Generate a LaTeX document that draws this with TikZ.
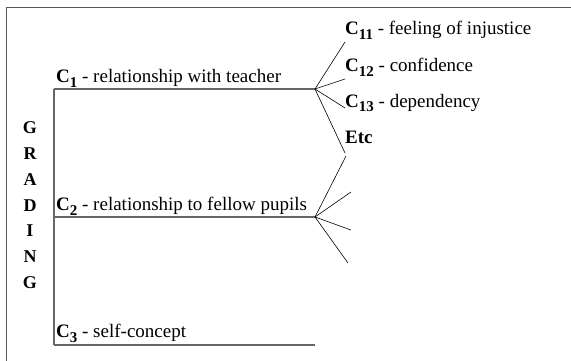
\documentclass[tikz,border=0pt]{standalone}
\usepackage{fontspec}
\setmainfont{Liberation Serif}
\usetikzlibrary{positioning}

% bold C with a bold lowered index
\newcommand{\cat}[1]{\textbf{C\raisebox{-5pt}{\fontsize{15}{16}\selectfont #1}}}

\begin{document}
\begin{tikzpicture}[x=1pt,y=-1pt,
    lbl/.style={anchor=base west,inner sep=0pt,font=\fontsize{19}{21}\selectfont},
    letter/.style={inner sep=0pt,font=\fontsize{18}{20}\selectfont\bfseries},
    stem/.style={draw=black!60,line width=1.3pt},
    twig/.style={draw=black,line width=0.6pt}]
    \useasboundingbox (0,0) rectangle (571,361);
    \draw[draw=black!65,line width=1pt] (6,361) -- (6,8) -- (571,8);

    % main branches
    \coordinate (K1) at (54,89);
    \coordinate (K2) at (54,217);
    \coordinate (K3) at (54,345);
    \coordinate (H1) at (315,89);
    \coordinate (H2) at (315,217);
    \coordinate (H3) at (315,345);

    \node[lbl] (C1) at (56,83) {\cat{1} - relationship with teacher};
    \node[lbl] (C2) at (56,210) {\cat{2} - relationship to fellow pupils};
    \node[lbl] (C3) at (56,337) {\cat{3} - self-concept};

    % sub-categories of C1
    \node[lbl] (C11) at (345,35) {\cat{11} - feeling of injustice};
    \node[lbl] (C12) at (345,72) {\cat{12} - confidence};
    \node[lbl] (C13) at (345,107) {\cat{13} - dependency};
    \node[lbl] (Etc) at (345,143) {\textbf{Etc}};

    % open ends for C2
    \coordinate (E1) at (346,156);
    \coordinate (E2) at (351,192);
    \coordinate (E3) at (351,230);
    \coordinate (E4) at (348,263);

    % the word down the side
    \foreach \ch [count=\i] in {G,R,A,D,I,N,G}
        \node[letter] (L\i) at (30,102+25.8*\i) {\ch};

    \draw[stem] (K1) -- (K3);
    \draw[stem] (K1) -- (H1);
    \draw[stem] (K2) -- (H2);
    \draw[stem] (K3) -- (H3);

    \draw[twig] (H1) -- ([yshift=-7pt]C11.base west);
    \draw[twig] (H1) -- ([yshift=-7pt]C12.base west);
    \draw[twig] (H1) -- ([yshift=-1pt]C13.base west);
    \draw[twig] (H1) -- ([yshift=-10pt]Etc.base west);

    \draw[twig] (H2) -- (E1);
    \draw[twig] (H2) -- (E2);
    \draw[twig] (H2) -- (E3);
    \draw[twig] (H2) -- (E4);
\end{tikzpicture}
\end{document}
